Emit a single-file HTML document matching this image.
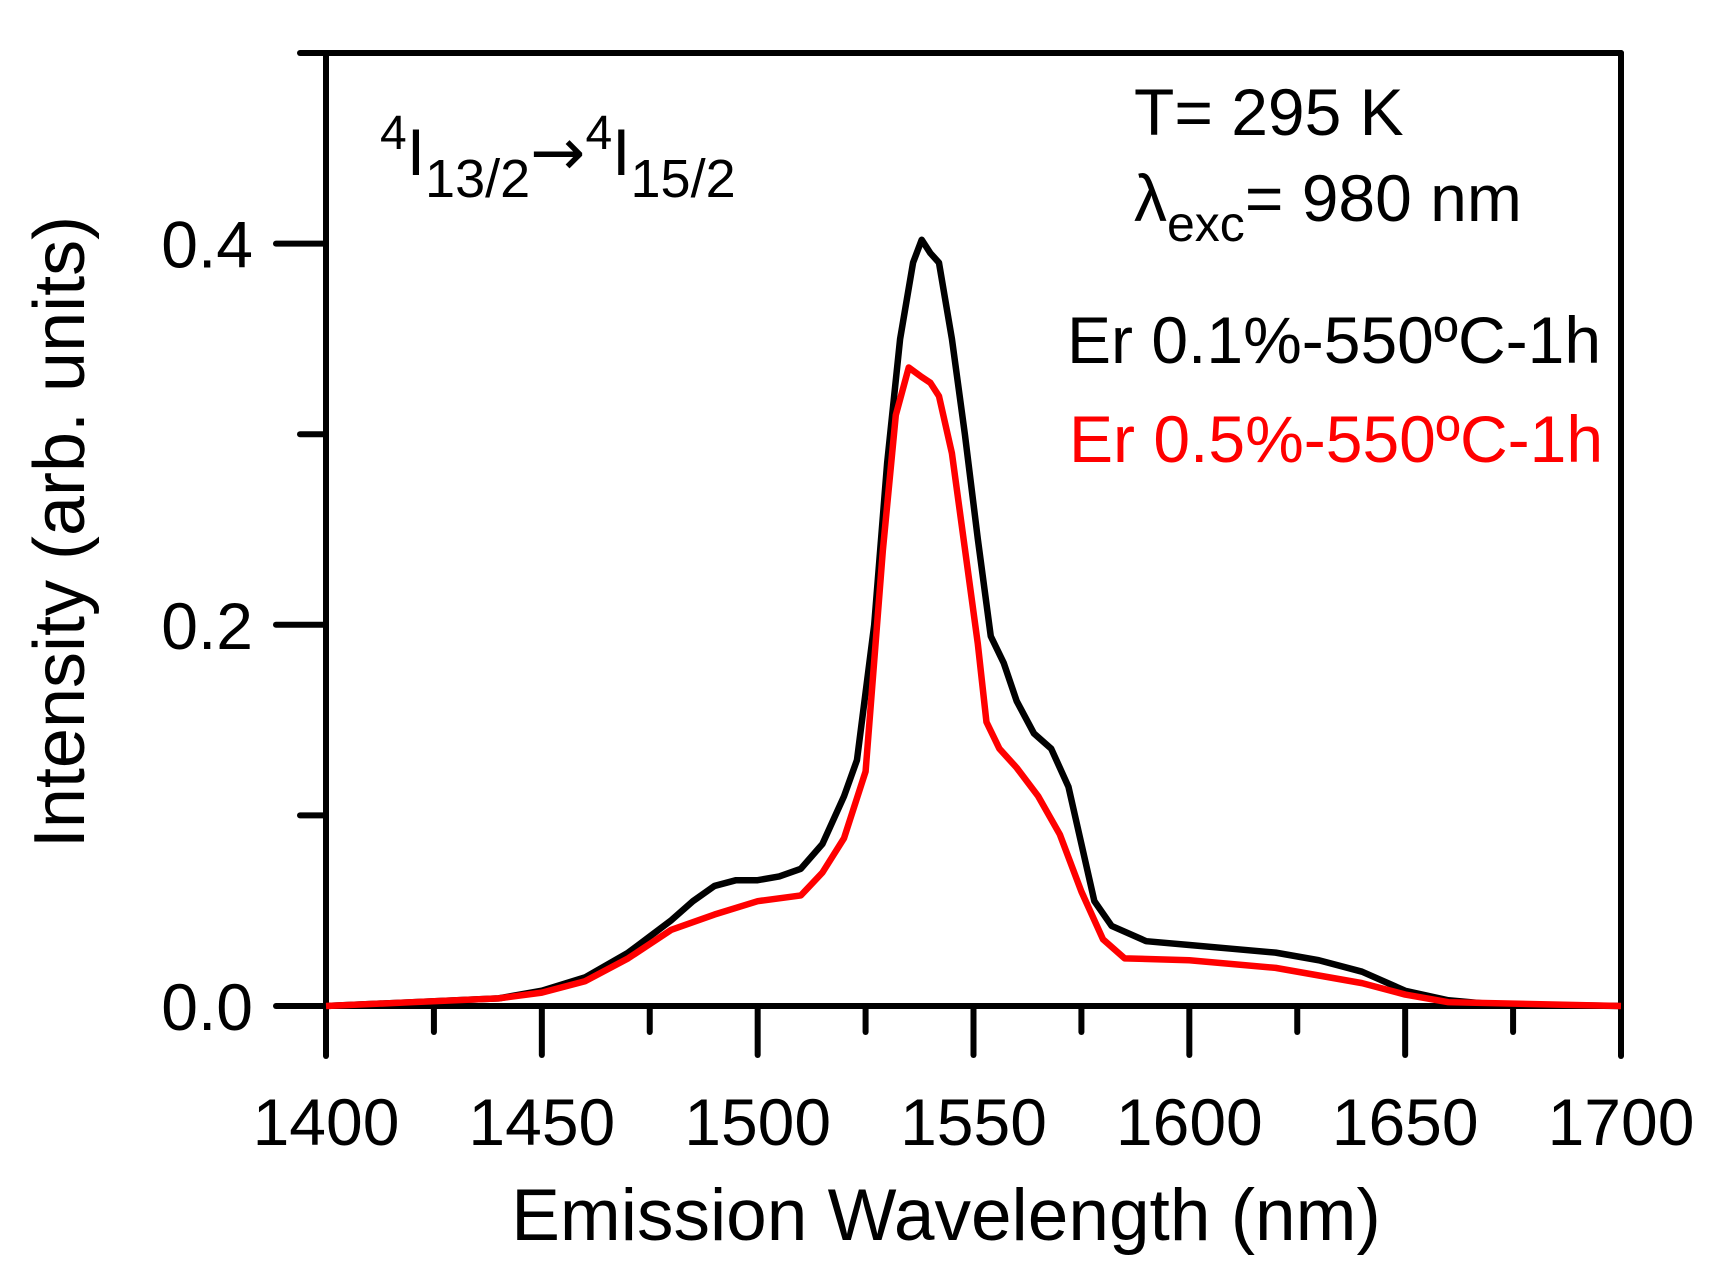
<!DOCTYPE html>
<html><head><meta charset="utf-8"><style>
html,body{margin:0;padding:0;background:#fff;}
svg{display:block;font-family:"Liberation Sans",Arial,sans-serif;}
</style></head><body>
<svg id="chart" width="1726" height="1288" viewBox="0 0 1726 1288">
<g id="axes"></g>
<g id="series"></g>
<text x="946" y="1240" font-size="73" text-anchor="middle">Emission Wavelength (nm)</text>
<text transform="translate(84,532) rotate(-90)" font-size="72" text-anchor="middle">Intensity (arb. units)</text>
<text x="380" y="175" font-size="66"><tspan dy="-26" font-size="48">4</tspan><tspan dy="26">I</tspan><tspan dy="22" font-size="54">13/2</tspan><tspan dy="-22" font-size="66" font-family="DejaVu Sans, sans-serif">→</tspan><tspan dy="-26" font-size="48">4</tspan><tspan dy="26">I</tspan><tspan dy="22" font-size="54">15/2</tspan></text>
<text x="1134" y="135" font-size="66">T= 295 K</text>
<text x="1134" y="221" font-size="66">λ<tspan dy="20" font-size="50">exc</tspan><tspan dy="-20">= 980 nm</tspan></text>
<text x="1067" y="363" font-size="66" fill="#000">Er 0.1%-550ºC-1h</text>
<text x="1069" y="462" font-size="66" fill="#ff0000">Er 0.5%-550ºC-1h</text>
</svg>
<script>
const blackX=[1400,1420,1440,1450,1460,1470,1480,1485,1490,1495,1500,1505,1510,1515,1520,1523,1527,1530,1533,1536,1538,1540,1542,1545,1548,1551,1554,1557,1560,1564,1568,1572,1575,1578,1582,1590,1600,1610,1620,1630,1640,1650,1660,1670,1700];
const blackY=[0,0.002,0.004,0.008,0.015,0.028,0.045,0.055,0.063,0.066,0.066,0.068,0.072,0.085,0.11,0.129,0.2,0.285,0.35,0.39,0.402,0.395,0.39,0.35,0.30,0.245,0.194,0.18,0.16,0.143,0.135,0.115,0.085,0.055,0.042,0.034,0.032,0.030,0.028,0.024,0.018,0.008,0.003,0.001,0];
const redX=[1400,1420,1440,1450,1460,1470,1480,1490,1500,1510,1515,1520,1525,1529,1532,1535,1538,1540,1542,1545,1548,1551,1553,1556,1560,1565,1570,1575,1580,1585,1600,1620,1640,1650,1660,1700];
const redY=[0,0.002,0.004,0.007,0.013,0.025,0.04,0.048,0.055,0.058,0.07,0.088,0.123,0.239,0.31,0.335,0.33,0.327,0.32,0.29,0.24,0.19,0.149,0.135,0.125,0.11,0.09,0.06,0.035,0.025,0.024,0.020,0.012,0.006,0.002,0];
const xTicks=[1400,1450,1500,1550,1600,1650,1700];
const xMinor=[1425,1475,1525,1575,1625,1675];
const yTicks=[0,0.2,0.4];
const yTickLabels=["0.0","0.2","0.4"];
const yMinor=[0.1,0.3];
const X0=326,X1=1621,Y0=1006,Ytop=53;
function sx(v){return X0+(v-1400)/300*(X1-X0);}
function sy(v){return Y0-(v/0.5)*(Y0-Ytop);}
const NS="http://www.w3.org/2000/svg";
const axes=document.getElementById('axes');
function ln(x1,y1,x2,y2,name){const l=document.createElementNS(NS,'line');
l.setAttribute('x1',x1);l.setAttribute('y1',y1);l.setAttribute('x2',x2);l.setAttribute('y2',y2);
l.setAttribute('stroke','#000');l.setAttribute('stroke-width','6');l.setAttribute('stroke-linecap','round');


axes.appendChild(l);return l;}
ln(X0,Ytop,X0,1056,'y-axis-line');
ln(X1,Ytop,X1,1056,'right-axis-line');
ln(300,Ytop,X1,Ytop,'top-axis-line');
ln(X0,Y0,X1,Y0,'x-axis-zero-line');
xTicks.forEach(v=>{ln(sx(v),Y0,sx(v),1055,'x-major-tick');
const t=document.createElementNS(NS,'text');t.setAttribute('x',sx(v));t.setAttribute('y',1145);
t.setAttribute('font-size','66');t.setAttribute('text-anchor','middle');t.textContent=v;


axes.appendChild(t);});
xMinor.forEach(v=>ln(sx(v),Y0,sx(v),1032,'x-minor-tick'));
yTicks.forEach((v,i)=>{ln(276,sy(v),X0,sy(v),'y-major-tick');
const t=document.createElementNS(NS,'text');t.setAttribute('x',253);t.setAttribute('y',sy(v)+24);
t.setAttribute('font-size','66');t.setAttribute('text-anchor','end');t.textContent=yTickLabels[i];


axes.appendChild(t);});
yMinor.forEach(v=>ln(300,sy(v),X0,sy(v),'y-minor-tick'));
const series=document.getElementById('series');
function path(xs,ys,color,name){const p=document.createElementNS(NS,'polyline');
p.setAttribute('points',xs.map((x,i)=>sx(x)+','+sy(ys[i])).join(' '));
p.setAttribute('fill','none');p.setAttribute('stroke',color);p.setAttribute('stroke-width','6.5');p.setAttribute('stroke-linejoin','round');


series.appendChild(p);}
path(blackX,blackY,'#000','series-er-0.1');
path(redX,redY,'#ff0000','series-er-0.5');
</script>
</body></html>
